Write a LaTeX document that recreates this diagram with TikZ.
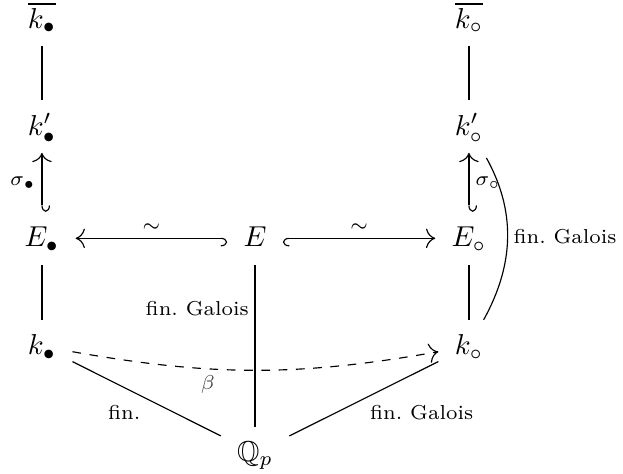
\documentclass[tikz,border=0pt]{standalone}
\usepackage{amsmath}
\usepackage{amssymb}
\usepackage{tikz}
\usetikzlibrary{arrows.meta, positioning}
\tikzstyle{obj} = [inner xsep=5.5pt, inner ysep=3.3pt, text height=8.7pt, text depth=2.7pt]
\tikzstyle{map} = [-{To[scale=1.3]}]
\tikzstyle{incl} = [{Hooks[right,width=5.6pt,length=2.2pt]}-{To[scale=1.3]}]
\tikzstyle{inclr} = [{Hooks[left,width=5.6pt,length=2.2pt]}-{To[scale=1.3]}]
\tikzstyle{lbl} = [font=\scriptsize, inner sep=2pt]

\begin{document}
\begin{tikzpicture}[on grid]

\useasboundingbox (-0.512,0.237) rectangle (7.09,-5.546);

% left column
\node (kbb) [obj] at (0,0) {$\overline{k_\bullet}$};
\node (kpb) [obj, below=1.305cm of kbb] {$k'_\bullet$};
\node (Eb) [obj, below=1.366cm of kpb] {$E_\bullet$};
\node (kb) [obj, below=1.318cm of Eb] {$k_\bullet$};

% middle
\node (E) [obj, right=2.6cm of Eb] {$E$};
\node (Qp) [obj, below=2.62cm of E] {$\mathbb{Q}_p$};

% right column
\node (Eo) [obj, right=2.61cm of E] {$E_\circ$};
\node (kpo) [obj, above=1.366cm of Eo] {$k'_\circ$};
\node (kbo) [obj, above=1.305cm of kpo] {$\overline{k_\circ}$};
\node (ko) [obj, below=1.318cm of Eo] {$k_\circ$};

% towers
\draw (kbb) -- (kpb);
\draw (kbo) -- (kpo);
\draw [inclr] (Eb) -- node[lbl, left] {$\sigma_\bullet$} (kpb);
\draw [inclr] (Eo) -- node[lbl, right] {$\sigma_\circ$} (kpo);
\draw (Eb) -- (kb);
\draw (Eo) -- (ko);

% isomorphisms out of E
\draw [incl] (E) -- node[lbl, above] {$\sim$} (Eb);
\draw [inclr] (E) -- node[lbl, above] {$\sim$} (Eo);

% down to Q_p
\draw (E) -- node[lbl, left, pos=0.27] {fin.\ Galois} (Qp);
\draw (kb) -- node[lbl, below left, pos=0.5] {fin.} (Qp);
\draw (ko) -- node[lbl, below right, pos=0.5] {fin.\ Galois} (Qp);

% curved maps
\draw [map, dashed] (kb) to[bend right=10] node[lbl, below, pos=0.36, text=black!70] {$\beta$} (ko);
\draw [shorten <=2pt] (kpo) to[bend left=29] node[lbl, right] {fin.\ Galois} (ko);

\end{tikzpicture}
\end{document}
